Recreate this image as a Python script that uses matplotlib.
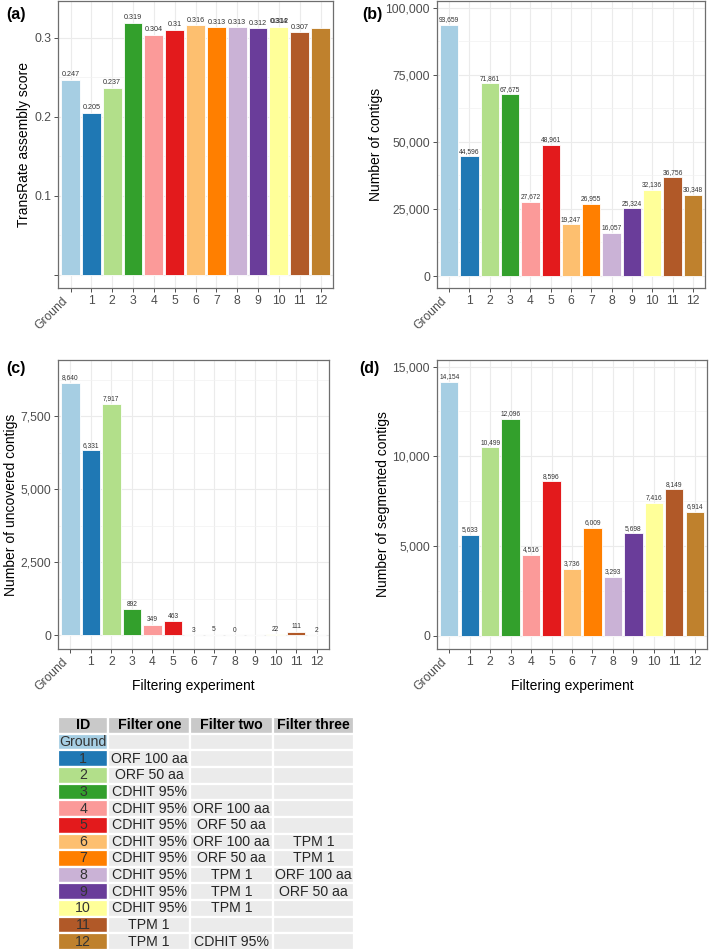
import matplotlib
matplotlib.use("Agg")
import matplotlib.pyplot as plt
from matplotlib.ticker import FixedLocator, FuncFormatter

plt.rcParams['font.family'] = ['Liberation Sans', 'DejaVu Sans']

# ---------------- data ----------------
categories = ["Ground", "1", "2", "3", "4", "5", "6", "7", "8", "9", "10", "11", "12"]
bar_colors = ["#A6CEE3", "#1F78B4", "#B2DF8A", "#33A02C", "#FB9A99", "#E31A1C",
              "#FDBF6F", "#FF7F00", "#CAB2D6", "#6A3D9A", "#FFFF99", "#B15928", "#BF812D"]

transrate = [0.247, 0.205, 0.237, 0.319, 0.304, 0.31, 0.316, 0.313, 0.313, 0.312, 0.314, 0.307, 0.312]
transrate_labels = ["0.247", "0.205", "0.237", "0.319", "0.304", "0.31", "0.316", "0.313",
                    "0.313", "0.312", "0.314", "0.307", ""]

contigs = [93659, 44596, 71861, 67675, 27672, 48961, 19247, 26955, 16057, 25324, 32136, 36756, 30348]
uncovered = [8640, 6331, 7917, 892, 349, 463, 3, 5, 0, 1, 22, 111, 2]
uncovered_labels = ["8,640", "6,331", "7,917", "892", "349", "463", "3", "5", "0", "", "22", "111", "2"]
segmented = [14154, 5633, 10499, 12096, 4516, 8596, 3736, 6009, 3293, 5698, 7416, 8149, 6914]

table_header = ["ID", "Filter one", "Filter two", "Filter three"]
filter_one = ["", "ORF 100 aa", "ORF 50 aa", "CDHIT 95%", "CDHIT 95%", "CDHIT 95%", "CDHIT 95%",
              "CDHIT 95%", "CDHIT 95%", "CDHIT 95%", "CDHIT 95%", "TPM 1", "TPM 1"]
filter_two = ["", "", "", "", "ORF 100 aa", "ORF 50 aa", "ORF 100 aa", "ORF 50 aa",
              "TPM 1", "TPM 1", "TPM 1", "", "CDHIT 95%"]
filter_three = ["", "", "", "", "", "", "TPM 1", "TPM 1", "ORF 100 aa", "ORF 50 aa", "", "", ""]

# ---------------- layout ----------------
W, H = 709, 952
fig = plt.figure(figsize=(W / 100, H / 100), dpi=100)
fig.patch.set_facecolor("white")


def px_axes(l, t, r, b):
    return fig.add_axes([l / W, 1 - b / H, (r - l) / W, (b - t) / H])


def style_panel(ax, ylim, majors, minors, fmt, ylabel, xlabel=None):
    x = list(range(len(categories)))
    ax.set_xlim(-0.6, len(categories) - 0.4)
    ax.set_ylim(*ylim)
    ax.yaxis.set_major_locator(FixedLocator(majors))
    ax.yaxis.set_minor_locator(FixedLocator(minors))
    ax.yaxis.set_major_formatter(FuncFormatter(fmt))
    ax.set_xticks(x)
    ax.set_xticklabels(categories)
    lab = ax.get_xticklabels()[0]
    lab.set_rotation(45)
    lab.set_ha("right")
    lab.set_va("top")
    ax.grid(True, which="major", color="#EBEBEB", lw=0.8)
    ax.grid(True, which="minor", axis="y", color="#F2F2F2", lw=0.5)
    ax.set_axisbelow(True)
    for s in ax.spines.values():
        s.set_color("#6E6E6E")
        s.set_linewidth(0.9)
    ax.tick_params(axis="both", which="major", length=3, width=0.6, color="#333333",
                   labelcolor="#4D4D4D", labelsize=8.7, pad=2)
    ax.tick_params(axis="y", which="minor", length=0)
    ax.set_ylabel(ylabel, fontsize=10, color="black", labelpad=2)
    if xlabel:
        ax.set_xlabel(xlabel, fontsize=10, color="black")
        ax.xaxis.set_label_coords(0.5, -0.128)
        ax.xaxis.label.set_va("center")


def draw_bars(ax, vals, labels, fs):
    x = list(range(len(categories)))
    ax.bar(x, vals, width=0.9, color=bar_colors, edgecolor="white", linewidth=0.6)
    for i, (v, t) in enumerate(zip(vals, labels)):
        if t:
            ax.annotate(t, (i, v), xytext=(0, 1), textcoords="offset points",
                        ha="center", va="bottom", fontsize=fs, color="#333333")


def comma(v, _pos=None):
    return f"{int(round(v)):,}"


# (a)
ax_a = px_axes(58, 1, 333, 288)
draw_bars(ax_a, transrate, transrate_labels, 5.2)
# overlapping label as in the reference
ax_a.annotate("0.312", (10, transrate[10]), xytext=(1, 1), textcoords="offset points",
              ha="center", va="bottom", fontsize=5.2, color="#333333")
style_panel(ax_a, (-0.0165, 0.3465), [0, 0.1, 0.2, 0.3], [0.05, 0.15, 0.25],
            lambda v, p: "" if abs(v) < 1e-9 else f"{v:.1f}", "TransRate assembly score")

# (b)
ax_b = px_axes(437, 1, 705, 288)
draw_bars(ax_b, contigs, [comma(v) for v in contigs], 4.8)
style_panel(ax_b, (-4470, 102500), [0, 25000, 50000, 75000, 100000],
            [12500, 37500, 62500, 87500], comma, "Number of contigs")

# (c)
ax_c = px_axes(58, 360, 329, 649)
draw_bars(ax_c, uncovered, uncovered_labels, 4.8)
style_panel(ax_c, (-479, 9418), [0, 2500, 5000, 7500], [1250, 3750, 6250, 8750],
            comma, "Number of uncovered contigs", "Filtering experiment")

# (d)
ax_d = px_axes(437, 360, 707, 649)
draw_bars(ax_d, segmented, [comma(v) for v in segmented], 4.8)
style_panel(ax_d, (-750, 15373), [0, 5000, 10000, 15000], [2500, 7500, 12500],
            comma, "Number of segmented contigs", "Filtering experiment")

# panel letters
for txt, xp, yp in [("(a)", 6, 15), ("(b)", 362, 15), ("(c)", 6, 368), ("(d)", 359, 368)]:
    fig.text(xp / W, 1 - yp / H, txt, fontsize=11.5, fontweight="bold", va="center", ha="left")

# ---------------- table ----------------
ax_t = px_axes(58, 717, 354, 950)
ax_t.axis("off")
cell_text = [[categories[i], filter_one[i], filter_two[i], filter_three[i]]
             for i in range(len(categories))]
cell_colours = [[bar_colors[i], "#EBEBEB", "#EBEBEB", "#EBEBEB"] for i in range(len(categories))]
tbl = ax_t.table(cellText=cell_text, colLabels=table_header, cellColours=cell_colours,
                 colColours=["#C9C9C9"] * 4, cellLoc="center", colLoc="center",
                 bbox=[0, 0, 1, 1], colWidths=[50, 82, 82, 81])
tbl.auto_set_font_size(False)
for (r, c), cell in tbl.get_celld().items():
    cell.set_edgecolor("white")
    cell.set_linewidth(1.6)
    cell.get_text().set_fontsize(10.2)
    if r == 0:
        cell.get_text().set_fontweight("bold")
        cell.get_text().set_color("black")
    else:
        cell.get_text().set_color("#262626" if c else "#333333")
    cell.PAD = 0.02

fig.savefig("out.png", dpi=100, facecolor="white")
